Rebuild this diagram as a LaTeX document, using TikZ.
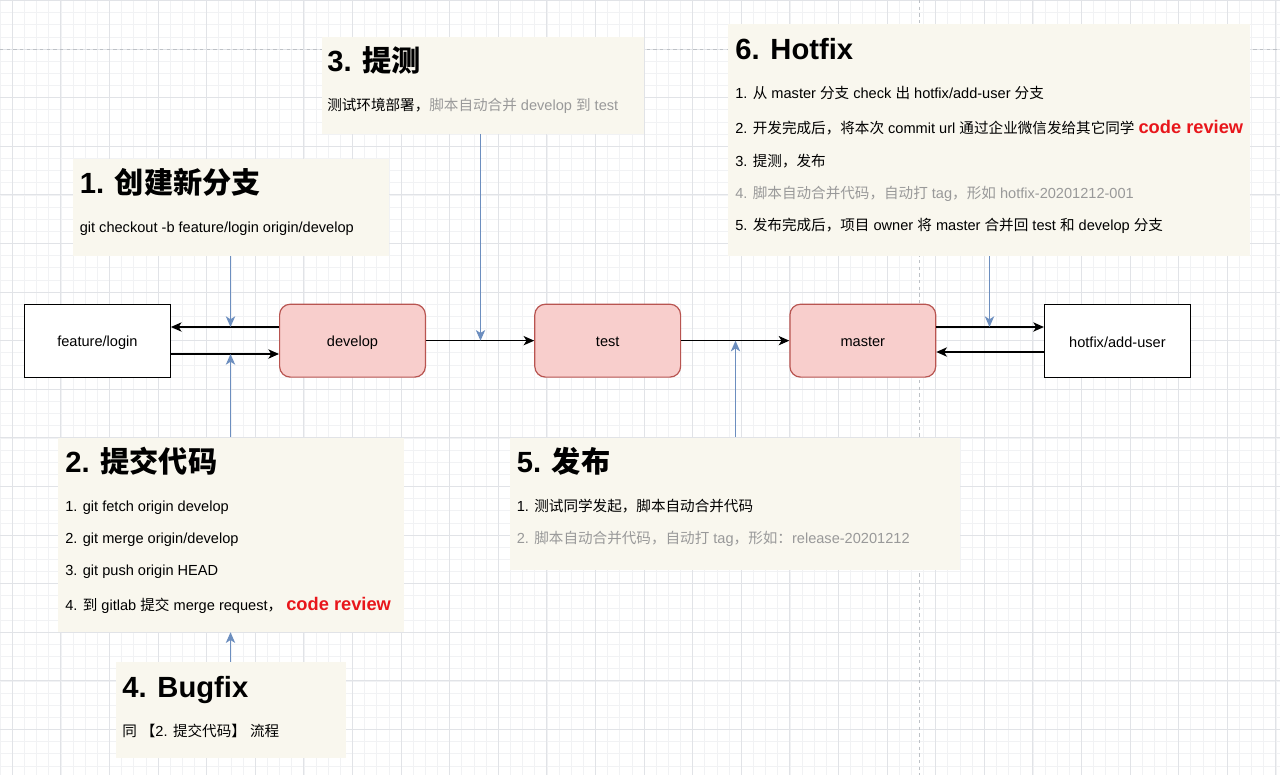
\documentclass[tikz,border=0pt]{standalone}
\usepackage{fontspec}
\setmainfont{Liberation Sans}
\newfontfamily\cjk{Noto Sans CJK SC}
\usetikzlibrary{arrows.meta,fit}
\definecolor{gridminor}{HTML}{F1F2F4}
\definecolor{gridmajor}{HTML}{E1E3E7}
\definecolor{pagebreak}{HTML}{BDC1C6}
\definecolor{note}{HTML}{F9F7EE}
\definecolor{redfill}{HTML}{F8CECC}
\definecolor{redline}{HTML}{B85450}
\definecolor{bluel}{HTML}{6C8EBF}
\definecolor{greytext}{HTML}{999999}
\definecolor{reviewred}{HTML}{E8161B}
\newcommand\zh[1]{{\cjk #1}}
\newcommand\rev[1]{{\fontsize{13.7}{16}\selectfont\bfseries\color{reviewred}#1}}
\begin{document}
\begin{tikzpicture}[x=0.75pt,y=-0.75pt,
  notebox/.style={fill=note,draw=none,inner sep=0pt},
  branch/.style={draw=black,fill=white,line width=0.9pt,inner sep=0pt},
  mainbr/.style={draw=redline,fill=redfill,line width=0.9pt,rounded corners=8pt,inner sep=0pt},
  brlabel/.style={font=\fontsize{10.94}{13}\selectfont,inner sep=0pt,yshift=-1.2pt},
  arr/.style={draw=black,line width=0.9pt,-{Stealth[length=8pt,width=7pt,inset=2.2pt]}},
  barr/.style={draw=bluel,line width=0.9pt,-{Stealth[length=8pt,width=7pt,inset=2.2pt]}},
  title/.style={anchor=base west,inner sep=0pt,font=\fontsize{21.9}{26}\selectfont\bfseries},
  body/.style={anchor=base west,inner sep=0pt,font=\fontsize{10.94}{13}\selectfont},
  grey/.style={text=greytext}]
\useasboundingbox (0,0) rectangle (1280,775);
\fill[white] (0,0) rectangle (1280,775);
% grid
\foreach \k in {-1,...,104} \draw[gridminor,line width=0.6pt] ({12.3+12.15*\k},0) -- ({12.3+12.15*\k},775);
\foreach \k in {0,...,63} \draw[gridminor,line width=0.6pt] (0,{0.5+12.15*\k}) -- (1280,{0.5+12.15*\k});
\foreach \k in {0,...,26} \draw[gridmajor,line width=0.7pt] ({12.3+48.6*\k},0) -- ({12.3+48.6*\k},775);
\foreach \k in {0,...,15} \draw[gridmajor,line width=0.7pt] (0,{0.5+48.6*\k}) -- (1280,{0.5+48.6*\k});
% page breaks
\draw[pagebreak,line width=0.7pt,dash pattern=on 2.5pt off 2.5pt] (0,49.3) -- (1280,49.3);
\draw[pagebreak,line width=0.7pt,dash pattern=on 2.5pt off 2.5pt] (919,0) -- (919,775);
% note boxes
\node[notebox,fit={(73,158.5) (389,255.5)}] (n1) {};
\node[notebox,fit={(322,36.5) (643.5,133.5)}] (n3) {};
\node[notebox,fit={(728,24) (1250,256)}] (n6) {};
\node[notebox,fit={(58,437.5) (404,632)}] (n2) {};
\node[notebox,fit={(510,437.5) (960,570)}] (n5) {};
\node[notebox,fit={(116,662) (346,758)}] (n4) {};
% branch boxes
\node[branch,fit={(24.5,304.2) (170.3,377.1)}] (feat) {};
\node[mainbr,fit={(279.6,304.2) (425.4,377.1)}] (dev) {};
\node[mainbr,fit={(534.8,304.2) (680.6,377.1)}] (test) {};
\node[mainbr,fit={(789.9,304.2) (935.7,377.1)}] (mast) {};
\node[branch,fit={(1044.5,304.2) (1190.3,377.1)}] (hot) {};
\node[brlabel] (featl) at (feat.center) {feature/login};
\node[brlabel] (devl) at (dev.center) {develop};
\node[brlabel] (testl) at (test.center) {test};
\node[brlabel] (mastl) at (mast.center) {master};
\node[brlabel] (hotl) at (hot.center) {hotfix/add-user};
% helper rows
\coordinate (yU) at (0,327);
\coordinate (yD) at (0,354);
\coordinate (yH) at (0,352);
% black connectors
\draw[arr] (dev.west |- yU) -- (feat.east |- yU);
\draw[arr] (feat.east |- yD) -- (dev.west |- yD);
\draw[arr] (dev.east) -- (test.west);
\draw[arr] (test.east) -- (mast.west);
\draw[arr] (mast.east |- yU) -- (hot.west |- yU);
\draw[arr] (hot.west |- yH) -- (mast.east |- yH);
% blue connectors
\coordinate (b1) at (230.5,327);
\coordinate (b2) at (230.5,354);
\coordinate (b3) at (480.5,340.7);
\coordinate (b5) at (735.5,340.7);
\coordinate (b6) at (989.5,327);
\draw[barr] (n1.south -| b1) -- (b1);
\draw[barr] (n2.north -| b2) -- (b2);
\draw[barr] (n3.south -| b3) -- (b3);
\draw[barr] (n5.north -| b5) -- (b5);
\draw[barr] (n6.south -| b6) -- (b6);
\draw[barr] (n4.north -| b2) -- (n2.south -| b2);
% texts box 1
\node[title] (t1) at (79.5,193) {1. \zh{创建新分支}};
\node[body] (t1a) at (79.5,232) {git checkout -b feature/login origin/develop};
% box 3
\node[title] (t3) at (327,71) {3. \zh{提测}};
\node[body] (t3a) at (327,110) {\zh{测试环境部署，}\textcolor{greytext}{\zh{脚本自动合并} develop \zh{到} test}};
% box 6
\node[title] (t6) at (735,59) {6. Hotfix};
\node[body] (t6a) at (735,98) {1. \zh{从} master \zh{分支} check \zh{出} hotfix/add-user \zh{分支}};
\node[body] (t6b) at (735,133) {2. \zh{开发完成后，将本次} commit url \zh{通过企业微信发给其它同学} \rev{code review}};
\node[body] (t6c) at (735,166) {3. \zh{提测，发布}};
\node[body,grey] (t6d) at (735,198) {4. \zh{脚本自动合并代码，自动打} tag\zh{，形如} hotfix-20201212-001};
\node[body] (t6e) at (735,230) {5. \zh{发布完成后，项目} owner \zh{将} master \zh{合并回} test \zh{和} develop \zh{分支}};
% box 2
\node[title] (t2) at (65,472) {2. \zh{提交代码}};
\node[body] (t2a) at (65,511) {1. git fetch origin develop};
\node[body] (t2b) at (65,543) {2. git merge origin/develop};
\node[body] (t2c) at (65,575) {3. git push origin HEAD};
\node[body] (t2d) at (65,610) {4. \zh{到} gitlab \zh{提交} merge request\zh{，} \rev{code review}};
% box 5
\node[title] (t5) at (516.5,472) {5. \zh{发布}};
\node[body] (t5a) at (516.5,511) {1. \zh{测试同学发起，脚本自动合并代码}};
\node[body,grey] (t5b) at (516.5,543) {2. \zh{脚本自动合并代码，自动打} tag\zh{，形如：}release-20201212};
% box 4
\node[title] (t4) at (122,697) {4. Bugfix};
\node[body] (t4a) at (122,736) {\zh{同} \zh{【}2. \zh{提交代码】} \zh{流程}};
\end{tikzpicture}
\end{document}
